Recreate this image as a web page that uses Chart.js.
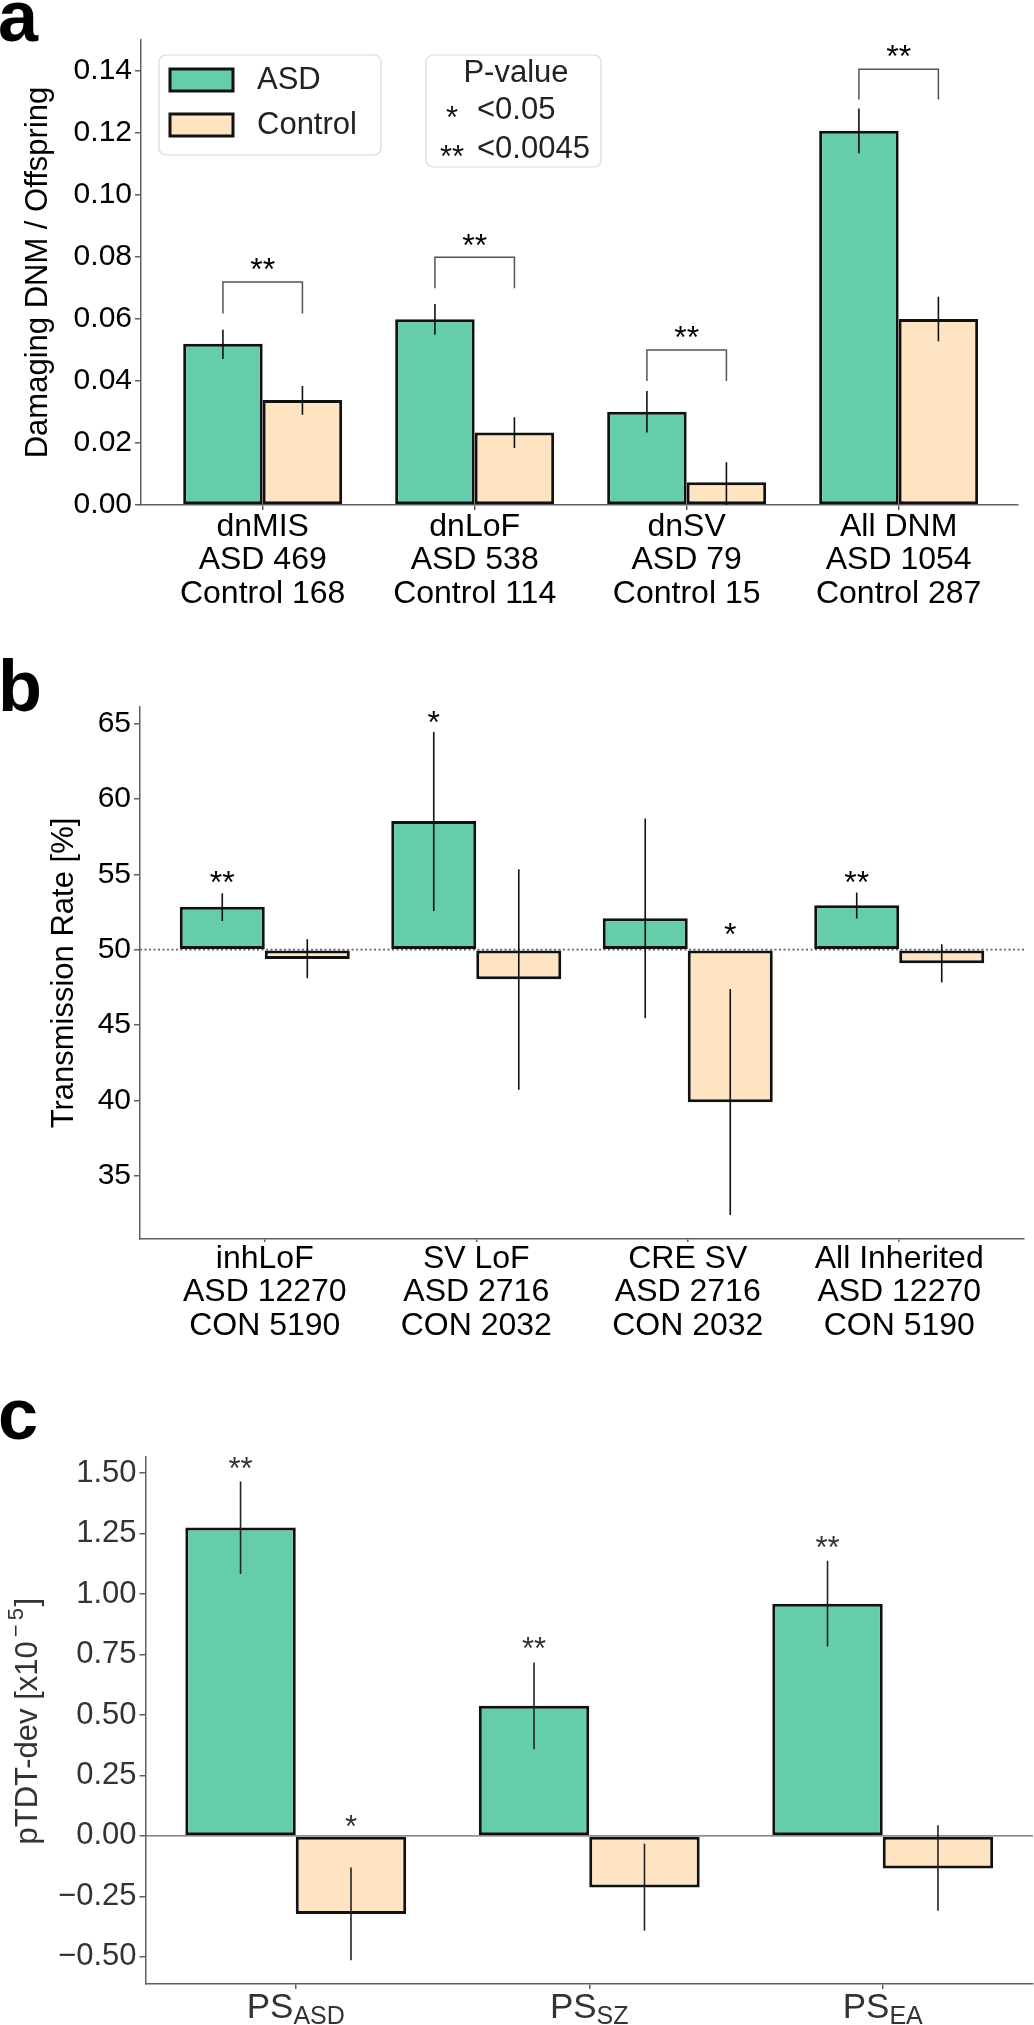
<!DOCTYPE html>
<html>
<head>
<meta charset="utf-8">
<script src="https://cdn.jsdelivr.net/npm/chart.js@4.4.1/dist/chart.umd.min.js"></script>
<style>
    html, body { margin: 0; padding: 0; background: #fff; }
    #page { position: relative; width: 1034px; height: 2025px; overflow: hidden; }
    canvas { position: absolute; left: 0; }
    .letter {
        position: absolute; left: -2px;
        font: bold 72px 'Liberation Sans', Arial, sans-serif;
        line-height: 72px; color: #000;
    }
</style>
</head>
<body>
<div id="page">
    <canvas id="chartA" width="1034" height="680" style="top:0"></canvas>
    <canvas id="chartB" width="1034" height="680" style="top:680px"></canvas>
    <canvas id="chartC" width="1034" height="665" style="top:1360px"></canvas>
    <div class="letter" style="top:-20px">a</div>
    <div class="letter" style="top:650px">b</div>
    <div class="letter" style="top:1378px">c</div>
</div>
<script>
const FONT = "'Liberation Sans', Arial, Helvetica, sans-serif";
const AXIS_GRAY = '#606060';
const ASD_COLOR = '#66cdaa';
const CON_COLOR = '#ffe4c4';

// ---- panel a: damaging de novo mutations per offspring
const dnmLabels = [
    ['dnMIS', 'ASD 469', 'Control 168'],
    ['dnLoF', 'ASD 538', 'Control 114'],
    ['dnSV', 'ASD 79', 'Control 15'],
    ['All DNM', 'ASD 1054', 'Control 287']
];
const dnmAsd = [0.0520, 0.0599, 0.0301, 0.1207];
const dnmAsdLow = [0.0471, 0.0549, 0.0234, 0.1135];
const dnmAsdHigh = [0.0565, 0.0648, 0.0368, 0.1279];
const dnmCon = [0.0339, 0.0234, 0.0073, 0.0600];
const dnmConLow = [0.0291, 0.0184, 0.0000, 0.0528];
const dnmConHigh = [0.0384, 0.0283, 0.0138, 0.0672];
const dnmBracketTop = [0.0719, 0.0799, 0.0500, 0.1406];
const dnmBracketLeg = [0.0618, 0.0699, 0.0400, 0.1308];
const dnmStars = ['**', '**', '**', '**'];
const dnmStarY = [0.0785, 0.0863, 0.0565, 0.1472];
const pLevels = ['*', '**'];
const pThresholds = ['<0.05', '<0.0045'];

// ---- panel b: transmission rate of inherited variants (%)
const inhLabels = [
    ['inhLoF', 'ASD 12270', 'CON 5190'],
    ['SV LoF', 'ASD 2716', 'CON 2032'],
    ['CRE SV', 'ASD 2716', 'CON 2032'],
    ['All Inherited', 'ASD 12270', 'CON 5190']
];
const inhAsd = [52.84, 58.53, 52.09, 52.94];
const inhAsdLow = [51.90, 52.56, 45.45, 52.06];
const inhAsdHigh = [53.74, 64.45, 58.70, 53.79];
const inhCon = [49.38, 48.03, 39.88, 49.10];
const inhConLow = [48.10, 40.70, 32.39, 47.82];
const inhConHigh = [50.69, 55.33, 47.39, 50.36];
const inhAsdStars = ['**', '*', '', '**'];
const inhAsdStarY = [54.98, 65.6, 0, 55.0];
const inhConStars = ['', '', '*', ''];
const inhConStarY = [0, 0, 51.5, 0];

// ---- panel c: pTDT deviation of polygenic scores (x10^-5)
const psNames = ['ASD', 'SZ', 'EA'];
const ptdtAsd = [1.2755, 0.538, 0.960];
const ptdtAsdLow = [1.083, 0.358, 0.783];
const ptdtAsdHigh = [1.466, 0.717, 1.138];
const ptdtCon = [-0.3236, -0.213, -0.1345];
const ptdtConLow = [-0.514, -0.392, -0.310];
const ptdtConHigh = [-0.131, -0.032, 0.044];
const ptdtAsdStars = ['**', '**', '**'];
const ptdtAsdStarY = [1.55, 0.806, 1.222];
const ptdtConStars = ['*', '', ''];
const ptdtConStarY = [0.068, 0, 0];


function drawStars(ctx, text, x, yPix, size, color) {
    ctx.save();
    ctx.font = `${size}px ${FONT}`;
    ctx.fillStyle = color;
    ctx.textAlign = 'center';
    ctx.textBaseline = 'alphabetic';
    // asterisks sit high in the em box, shift so the glyph is centred on yPix
    ctx.fillText(text, x, yPix + 0.575 * size);
    ctx.restore();
}

function drawYTitle(ctx, runs, x, yMid, color) {
    ctx.save();
    ctx.translate(x, yMid);
    ctx.rotate(-Math.PI / 2);
    ctx.textBaseline = 'middle';
    ctx.textAlign = 'left';
    ctx.fillStyle = color;
    let total = 0;
    runs.forEach(r => {
        ctx.font = `${r.size}px ${FONT}`;
        r.w = ctx.measureText(r.text).width + (r.gap || 0);
        total += r.w;
    });
    let cx = -total / 2;
    runs.forEach(r => {
        ctx.font = `${r.size}px ${FONT}`;
        ctx.fillText(r.text, cx + (r.gap || 0) / 2, -(r.rise || 0));
        cx += r.w;
    });
    ctx.restore();
}

function makeDecor(cfg) {
    return {
        id: 'decor',
        beforeDatasetsDraw(chart) {
            const { ctx, chartArea } = chart;
            const yScale = chart.scales.y;
            if (cfg.refLine) {
                const py = yScale.getPixelForValue(cfg.refLine.value);
                ctx.save();
                ctx.strokeStyle = cfg.refLine.color;
                ctx.lineWidth = cfg.refLine.width;
                ctx.setLineDash(cfg.refLine.dash || []);
                ctx.beginPath();
                ctx.moveTo(chartArea.left, py);
                ctx.lineTo(chartArea.right, py);
                ctx.stroke();
                ctx.restore();
            }
        },
        afterDatasetsDraw(chart) {
            const ctx = chart.ctx;
            const yScale = chart.scales.y;
            const py = v => yScale.getPixelForValue(v);
            const metas = [chart.getDatasetMeta(0), chart.getDatasetMeta(1)];

            // error bars
            ctx.save();
            ctx.strokeStyle = cfg.errColor;
            ctx.lineWidth = 1.6;
            cfg.errors.forEach((err, d) => {
                metas[d].data.forEach((bar, i) => {
                    ctx.beginPath();
                    ctx.moveTo(bar.x, py(err.low[i]));
                    ctx.lineTo(bar.x, py(err.high[i]));
                    ctx.stroke();
                });
            });
            ctx.restore();

            // significance brackets
            if (cfg.brackets) {
                ctx.save();
                ctx.strokeStyle = '#555';
                ctx.lineWidth = 1.5;
                cfg.brackets.top.forEach((top, i) => {
                    const x0 = metas[0].data[i].x;
                    const x1 = metas[1].data[i].x;
                    ctx.beginPath();
                    ctx.moveTo(x0, py(cfg.brackets.leg[i]));
                    ctx.lineTo(x0, py(top));
                    ctx.lineTo(x1, py(top));
                    ctx.lineTo(x1, py(cfg.brackets.leg[i]));
                    ctx.stroke();
                });
                ctx.restore();
            }

            // stars
            cfg.stars.forEach(s => {
                s.text.forEach((t, i) => {
                    if (!t) return;
                    const x = s.on === 'mid'
                        ? (metas[0].data[i].x + metas[1].data[i].x) / 2
                        : metas[s.on].data[i].x;
                    drawStars(ctx, t, x, py(s.at[i]), cfg.starSize, cfg.textColor);
                });
            });
        },
        afterDraw(chart) {
            const ctx = chart.ctx;
            const area = chart.chartArea;
            drawYTitle(ctx, cfg.yTitle, cfg.yTitleX, (area.top + area.bottom) / 2, cfg.textColor);

            if (cfg.legend) {
                ctx.save();
                // series legend
                ctx.fillStyle = 'rgba(255,255,255,0.8)';
                ctx.strokeStyle = '#dadada';
                ctx.lineWidth = 1.2;
                ctx.beginPath();
                ctx.roundRect(159, 55, 222, 100, 7);
                ctx.fill();
                ctx.stroke();
                chart.data.datasets.forEach((ds, i) => {
                    const cy = 80 + i * 45;
                    ctx.fillStyle = ds.backgroundColor;
                    ctx.fillRect(170, cy - 11, 63, 22);
                    ctx.lineWidth = 3;
                    ctx.strokeStyle = '#111';
                    ctx.strokeRect(170, cy - 11, 63, 22);
                    ctx.fillStyle = '#222';
                    ctx.font = `31px ${FONT}`;
                    ctx.textAlign = 'left';
                    ctx.textBaseline = 'middle';
                    ctx.fillText(ds.label, 257, cy);
                });
                // p-value legend
                ctx.fillStyle = 'rgba(255,255,255,0.8)';
                ctx.strokeStyle = '#dadada';
                ctx.lineWidth = 1.2;
                ctx.beginPath();
                ctx.roundRect(426, 55, 175, 112, 7);
                ctx.fill();
                ctx.stroke();
                ctx.fillStyle = '#222';
                ctx.font = `31px ${FONT}`;
                ctx.textAlign = 'center';
                ctx.textBaseline = 'middle';
                ctx.fillText('P-value', 516, 73);
                pLevels.forEach((lvl, i) => {
                    const cy = 110 + i * 39;
                    drawStars(ctx, lvl, 452, cy, 31, '#111');
                    ctx.font = `31px ${FONT}`;
                    ctx.fillStyle = '#222';
                    ctx.textAlign = 'left';
                    ctx.textBaseline = 'middle';
                    ctx.fillText(pThresholds[i], 477, cy);
                });
                ctx.restore();
            }

            if (cfg.subLabels) {
                const xs = chart.scales.x;
                ctx.save();
                ctx.fillStyle = cfg.textColor;
                ctx.textAlign = 'left';
                ctx.textBaseline = 'alphabetic';
                cfg.subLabels.forEach((name, i) => {
                    const cx = xs.getPixelForValue(i);
                    ctx.font = `35px ${FONT}`;
                    const wMain = ctx.measureText('PS').width;
                    ctx.font = `25px ${FONT}`;
                    const wSub = ctx.measureText(name).width;
                    const x0 = cx - (wMain + wSub) / 2;
                    ctx.font = `35px ${FONT}`;
                    ctx.fillText('PS', x0, 658);
                    ctx.font = `25px ${FONT}`;
                    ctx.fillText(name, x0 + wMain, 664);
                });
                ctx.restore();
            }
        }
    };
}

function barDatasets(asd, con, base) {
    const common = {
        borderColor: '#111',
        borderWidth: 3,
        borderSkipped: false,
        barPercentage: 1.0
    };
    const ds = [
        Object.assign({ label: 'ASD', data: asd.map((v, i) => ({ x: i, y: v })), backgroundColor: ASD_COLOR }, common),
        Object.assign({ label: 'Control', data: con.map((v, i) => ({ x: i, y: v })), backgroundColor: CON_COLOR }, common)
    ];
    if (base !== undefined) ds.forEach(d => { d.base = base; });
    return ds;
}

function renderPanel(canvasId, p) {
    const ctx = document.getElementById(canvasId).getContext('2d');
    const datasets = barDatasets(p.asd, p.con, p.base);
    datasets.forEach(d => { d.categoryPercentage = p.catPct; });
    return new Chart(ctx, {
        type: 'bar',
        data: { datasets: datasets },
        options: {
            responsive: false,
            animation: false,
            devicePixelRatio: 1,
            events: [],
            layout: { padding: { top: p.top, right: p.right, left: 0, bottom: 0 } },
            plugins: { legend: { display: false }, tooltip: { enabled: false } },
            scales: {
                x: {
                    type: 'linear',
                    min: p.xMin,
                    max: p.xMax,
                    offset: false,
                    afterBuildTicks: axis => { axis.ticks = p.groups.map((_, i) => ({ value: i })); },
                    afterFit: axis => { axis.height = p.xHeight; },
                    grid: { drawOnChartArea: false, offset: false, tickLength: p.xTick, color: AXIS_GRAY, lineWidth: 1.5 },
                    border: { color: AXIS_GRAY, width: 1.5 },
                    ticks: {
                        autoSkip: false, maxRotation: 0, minRotation: 0, padding: 0,
                        color: p.textColor,
                        font: { family: FONT, size: 32, lineHeight: 1.05 },
                        callback: v => p.xLabels ? p.xLabels[Math.round(v)] : ''
                    }
                },
                y: {
                    min: p.yMin,
                    max: p.yMax,
                    beginAtZero: false,
                    afterFit: axis => { axis.width = p.yWidth; },
                    grid: { drawOnChartArea: false, tickLength: 6, color: AXIS_GRAY, lineWidth: 1.5 },
                    border: { color: AXIS_GRAY, width: 1.5 },
                    ticks: {
                        stepSize: p.yStep,
                        includeBounds: false,
                        padding: 3,
                        color: p.textColor,
                        font: { family: FONT, size: p.yFont },
                        callback: p.yFormat
                    }
                }
            }
        },
        plugins: [makeDecor(p.decor)]
    });
}

renderPanel('chartA', {
    groups: dnmLabels, xLabels: dnmLabels,
    asd: dnmAsd, con: dnmCon, catPct: 0.75,
    top: 40, right: 16, yWidth: 141, xHeight: 175, xTick: 5,
    xMin: -0.574, xMax: 3.563,
    yMin: 0, yMax: 0.15, yStep: 0.02, yFont: 30,
    yFormat: v => v.toFixed(2),
    textColor: '#000',
    decor: {
        errColor: '#111',
        errors: [{ low: dnmAsdLow, high: dnmAsdHigh }, { low: dnmConLow, high: dnmConHigh }],
        brackets: { top: dnmBracketTop, leg: dnmBracketLeg },
        stars: [{ on: 'mid', text: dnmStars, at: dnmStarY }],
        starSize: 32,
        textColor: '#000',
        yTitle: [{ text: 'Damaging DNM / Offspring', size: 31 }],
        yTitleX: 38,
        legend: true
    }
});

renderPanel('chartB', {
    groups: inhLabels, xLabels: inhLabels,
    asd: inhAsd, con: inhCon, base: 50, catPct: 0.804,
    top: 27, right: 10, yWidth: 140, xHeight: 121, xTick: 3,
    xMin: -0.59, xMax: 3.59,
    yMin: 30.8, yMax: 66.1, yStep: 5, yFont: 30,
    yFormat: v => String(v),
    textColor: '#000',
    decor: {
        errColor: '#111',
        errors: [{ low: inhAsdLow, high: inhAsdHigh }, { low: inhConLow, high: inhConHigh }],
        refLine: { value: 50, color: '#666', width: 1.8, dash: [2, 2.5] },
        stars: [{ on: 0, text: inhAsdStars, at: inhAsdStarY }, { on: 1, text: inhConStars, at: inhConStarY }],
        starSize: 32,
        textColor: '#000',
        yTitle: [{ text: 'Transmission Rate [%]', size: 31 }],
        yTitleX: 64
    }
});

renderPanel('chartC', {
    groups: psNames, xLabels: null,
    asd: ptdtAsd, con: ptdtCon, catPct: 0.7526,
    top: 97, right: 1, yWidth: 145.5, xHeight: 41, xTick: 5,
    xMin: -0.512, xMax: 2.512,
    yMin: -0.6126, yMax: 1.567, yStep: 0.25, yFont: 31,
    yFormat: v => (v < 0 ? '\u2212' : '') + Math.abs(v).toFixed(2),
    textColor: '#333',
    decor: {
        errColor: '#222',
        errors: [{ low: ptdtAsdLow, high: ptdtAsdHigh }, { low: ptdtConLow, high: ptdtConHigh }],
        refLine: { value: 0, color: '#666', width: 1.3 },
        stars: [{ on: 0, text: ptdtAsdStars, at: ptdtAsdStarY }, { on: 1, text: ptdtConStars, at: ptdtConStarY }],
        starSize: 31,
        textColor: '#333',
        yTitle: [
            { text: 'pTDT-dev [x10', size: 31 },
            { text: '\u2212', size: 22, rise: 11, gap: 8 },
            { text: '5', size: 22, rise: 11 },
            { text: ']', size: 31, gap: 3 }
        ],
        yTitleX: 28,
        subLabels: psNames
    }
});
</script>
</body>
</html>
